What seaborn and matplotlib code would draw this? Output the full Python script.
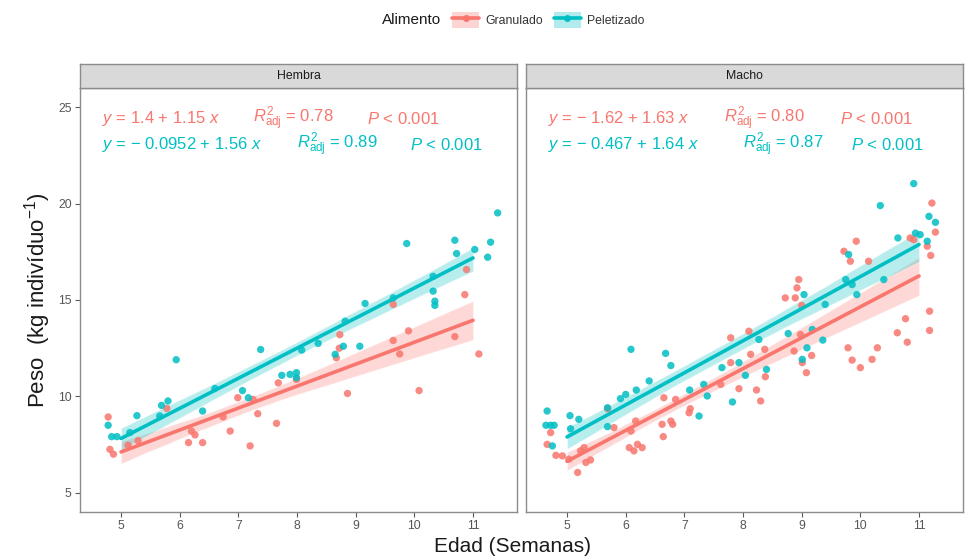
import numpy as np
import pandas as pd
import matplotlib
matplotlib.use("Agg")
import matplotlib.pyplot as plt
import seaborn as sns
from matplotlib.patches import Patch
from matplotlib.lines import Line2D

# ---------------- data (x = jittered display position) -------------
hembra_gran_x = [4.78, 4.81, 4.87, 5.12, 5.29, 5.78, 6.15, 6.20, 6.26, 6.39, 6.74, 6.86, 6.99,
                 7.20, 7.33, 7.25, 7.65, 7.68, 7.99, 8.67, 8.72, 8.73, 8.86, 9.64, 9.75, 9.90,
                 10.08, 10.69, 11.10, 10.86, 10.89, 9.64]
hembra_gran_y = [8.93, 7.25, 7.00, 7.46, 7.70, 9.38, 7.60, 8.20, 8.00, 7.60, 8.93, 8.20, 9.93,
                 7.43, 9.10, 9.84, 8.60, 10.70, 10.88, 12.00, 12.50, 13.20, 10.15, 12.90, 12.20, 13.40,
                 10.30, 13.10, 12.20, 15.28, 16.58, 14.77]

hembra_pel_x = [4.78, 4.84, 4.93, 5.15, 5.27, 5.66, 5.69, 5.80, 5.94, 6.39, 6.60, 7.07, 7.17,
                7.38, 7.74, 7.88, 7.99, 7.99, 8.08, 8.36, 8.65, 8.79, 9.07, 8.82, 9.16, 9.64,
                9.87, 10.32, 10.32, 10.35, 10.35, 10.69, 10.72, 11.03, 11.25, 11.30, 11.42]
hembra_pel_y = [8.50, 7.91, 7.91, 8.12, 9.00, 8.98, 9.53, 9.76, 11.90, 9.24, 10.41, 10.30, 9.93,
                12.43, 11.09, 11.14, 11.23, 10.97, 12.40, 12.75, 12.18, 12.60, 12.60, 13.90, 14.82, 15.11,
                17.93, 16.23, 15.46, 14.94, 14.72, 18.10, 17.41, 17.62, 17.22, 18.00, 19.52]

macho_gran_x = [4.66, 4.72, 4.81, 4.92, 5.03, 5.18, 5.23, 5.29, 5.32, 5.40, 5.69, 5.80, 6.06,
                6.14, 6.20, 6.28, 6.17, 6.09, 6.64, 6.62, 6.77, 6.80, 6.65, 6.85, 7.08, 7.10,
                7.62, 7.79, 7.79, 7.93, 8.10, 8.13, 8.23, 8.30, 8.37, 8.38, 8.72, 8.89, 8.92,
                8.95, 9.00, 8.87, 8.98, 9.01, 9.08, 9.17, 9.72, 9.83, 9.93, 10.14, 9.79, 9.86,
                10.00, 10.20, 10.29, 10.63, 10.80, 10.77, 10.85, 10.91, 11.14, 11.20, 11.18, 11.18,
                11.22, 11.28]
macho_gran_y = [7.51, 8.12, 6.94, 6.91, 6.74, 6.05, 7.17, 7.34, 6.57, 6.70, 9.36, 8.38, 7.34,
                7.17, 7.51, 7.34, 8.72, 8.20, 7.91, 8.55, 8.72, 8.55, 9.93, 9.84, 9.15, 9.36,
                10.62, 13.04, 11.75, 10.40, 13.38, 12.18, 10.33, 9.76, 12.44, 11.02, 15.11, 15.11, 15.63,
                16.06, 14.72, 12.35, 13.21, 11.75, 11.23, 12.12, 17.53, 17.01, 18.05, 17.01, 12.52, 11.88,
                11.49, 11.92, 12.52, 13.30, 12.81, 14.03, 18.22, 18.13, 17.79, 17.31, 14.42, 13.42,
                20.03, 18.52]

macho_pel_x = [4.66, 4.64, 4.72, 4.78, 4.75, 5.05, 5.06, 5.20, 5.69, 5.69, 5.91, 6.00, 6.09,
               6.18, 6.40, 6.68, 6.77, 7.09, 7.25, 7.33, 7.39, 7.64, 7.82, 7.93, 8.04, 8.27,
               8.40, 8.77, 9.01, 9.09, 9.18, 9.36, 9.04, 9.40, 9.75, 9.80, 9.86, 9.94, 10.40,
               10.34, 10.64, 10.91, 10.94, 11.02, 11.17, 11.28, 11.14]
macho_pel_y = [9.24, 8.50, 8.50, 8.50, 7.43, 9.00, 8.32, 8.81, 8.43, 9.41, 9.88, 10.10, 12.44,
               10.33, 10.80, 12.23, 11.60, 10.33, 8.98, 10.62, 10.02, 11.49, 9.71, 11.75, 11.09, 12.95,
               11.40, 13.26, 11.92, 12.52, 13.47, 12.92, 15.28, 14.77, 16.06, 17.36, 15.80, 15.28, 16.06,
               19.90, 18.22, 21.04, 18.47, 18.39, 19.34, 19.03, 18.05]

paneles = ["Hembra", "Macho"]
alimentos = ["Granulado", "Peletizado"]
colores = {"Granulado": "#F8766D", "Peletizado": "#00BFC4"}

ecuaciones = {
    ("Hembra", "Granulado"): ["$y$ = 1.4 + 1.15 $x$", r"$R^2_{\mathrm{adj}}$ = 0.78", "$P$ < 0.001"],
    ("Hembra", "Peletizado"): ["$y$ = \u2212 0.0952 + 1.56 $x$", r"$R^2_{\mathrm{adj}}$ = 0.89", "$P$ < 0.001"],
    ("Macho", "Granulado"): ["$y$ = \u2212 1.62 + 1.63 $x$", r"$R^2_{\mathrm{adj}}$ = 0.80", "$P$ < 0.001"],
    ("Macho", "Peletizado"): ["$y$ = \u2212 0.467 + 1.64 $x$", r"$R^2_{\mathrm{adj}}$ = 0.87", "$P$ < 0.001"],
}

x_ticks = [5, 6, 7, 8, 9, 10, 11]
y_ticks = [5, 10, 15, 20, 25]

# ---------------- build table ----------------
rows = []
for sexo, alim, xs, ys in [("Hembra", "Granulado", hembra_gran_x, hembra_gran_y),
                           ("Hembra", "Peletizado", hembra_pel_x, hembra_pel_y),
                           ("Macho", "Granulado", macho_gran_x, macho_gran_y),
                           ("Macho", "Peletizado", macho_pel_x, macho_pel_y)]:
    for xv, yv in zip(xs, ys):
        rows.append({"Sexo": sexo, "Alimento": alim, "Edad": xv,
                     "Semana": float(np.rint(xv)), "Peso": yv})
df = pd.DataFrame(rows)

# ---------------- style ----------------
sns.set_theme(style="white")
plt.rcParams["font.family"] = ["Liberation Sans", "DejaVu Sans"]
plt.rcParams["mathtext.fontset"] = "custom"
plt.rcParams["mathtext.rm"] = "Liberation Sans"
plt.rcParams["mathtext.it"] = "Liberation Sans:italic"
plt.rcParams["mathtext.bf"] = "Liberation Sans:bold"

W, H = 965, 558
fig = plt.figure(figsize=(W / 100, H / 100), dpi=100)
fig.patch.set_facecolor("white")

panel_left = {"Hembra": 80, "Macho": 526}
panel_w, panel_top, panel_bot = 437, 88, 512
strip_top = 64
border = "#8c8c8c"

eq_pos = {
    ("Hembra", "Granulado"): (0.050, 0.396, 0.657),
    ("Hembra", "Peletizado"): (0.050, 0.497, 0.755),
    ("Macho", "Granulado"): (0.050, 0.453, 0.718),
    ("Macho", "Peletizado"): (0.050, 0.497, 0.744),
}
eq_y = {"Granulado": 0.928, "Peletizado": 0.866}

for sexo in paneles:
    x0 = panel_left[sexo]
    ax = fig.add_axes([x0 / W, (H - panel_bot) / H, panel_w / W, (panel_bot - panel_top) / H])
    sub = df[df["Sexo"] == sexo]
    sns.scatterplot(data=sub, x="Edad", y="Peso", hue="Alimento", hue_order=alimentos,
                    palette=colores, s=28, linewidth=0, alpha=0.85, ax=ax, legend=False, zorder=2)
    for alim in alimentos:
        g = sub[sub["Alimento"] == alim]
        sns.regplot(data=g, x="Semana", y="Peso", scatter=False, ci=95, seed=1, ax=ax,
                    color=colores[alim], line_kws={"lw": 2.6, "zorder": 4})
    for poly in ax.collections[1:]:
        poly.set_alpha(0.28)
    ax.set_xlim(4.3, 11.75)
    ax.set_ylim(4.0, 26.0)
    ax.set_xticks(x_ticks)
    ax.set_xticklabels([str(t) for t in x_ticks])
    ax.set_xlabel("")
    ax.set_ylabel("")
    ax.tick_params(axis="both", which="both", direction="out", length=3.5, width=0.8,
                   color="#5a5a5a", labelcolor="#555555", labelsize=8.8, pad=2.5)
    ax.tick_params(axis="x", bottom=True)
    ax.set_yticks(y_ticks)
    if sexo == "Hembra":
        ax.set_yticklabels([str(t) for t in y_ticks])
        ax.tick_params(axis="y", left=True)
    else:
        ax.set_yticklabels([])
        ax.tick_params(axis="y", left=False)
    ax.grid(False)
    for sp in ax.spines.values():
        sp.set_color(border)
        sp.set_linewidth(1.0)
    for alim in alimentos:
        for frac, s in zip(eq_pos[(sexo, alim)], ecuaciones[(sexo, alim)]):
            ax.text(frac, eq_y[alim], s, transform=ax.transAxes, ha="left", va="center",
                    color=colores[alim], fontsize=12)
    # strip
    sax = fig.add_axes([x0 / W, (H - panel_top) / H, panel_w / W, (panel_top - strip_top) / H])
    sax.set_facecolor("#d9d9d9")
    sax.set_xticks([])
    sax.set_yticks([])
    for sp in sax.spines.values():
        sp.set_color(border)
        sp.set_linewidth(1.0)
    sax.text(0.5, 0.5, sexo, ha="center", va="center", fontsize=8.8, color="#1a1a1a",
             transform=sax.transAxes)

# axis titles
fig.text(512 / W, 1 - 546 / H, "Edad (Semanas)", ha="center", va="center",
         fontsize=15, color="#1a1a1a")
fig.text(38 / W, 1 - 300 / H, r"Peso  (kg indivíduo$^{-1}$)", ha="center", va="center",
         rotation=90, fontsize=16, color="#1a1a1a")

# legend
fig.text(441 / W, 1 - 20 / H, "Alimento", ha="right", va="center", fontsize=11, color="#1a1a1a")
handles = []
for alim in alimentos:
    handles.append((Patch(facecolor=colores[alim], alpha=0.3, edgecolor="none"),
                    Line2D([], [], color=colores[alim], lw=2.6, marker="o", markersize=5,
                           markeredgewidth=0)))
fig.legend(handles, alimentos, loc="center left", bbox_to_anchor=(446 / W, 1 - 20 / H),
           ncol=2, frameon=False, fontsize=8.8, handlelength=2.2, handleheight=1.6,
           handletextpad=0.5, columnspacing=0.9, borderpad=0.0, labelcolor="#333333")

fig.savefig("out.png", dpi=100, facecolor="white")
